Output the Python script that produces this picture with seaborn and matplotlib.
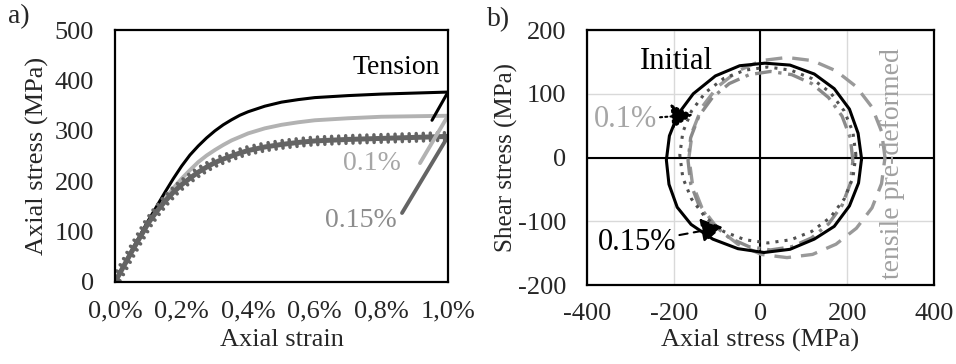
import numpy as np
import pandas as pd
import matplotlib
matplotlib.use("Agg")
import matplotlib.pyplot as plt
import matplotlib.patheffects as pe
import seaborn as sns

# ---- panel a) : axial stress-strain curves (strain in %, stress in MPa)
strain = [0.0, 0.05, 0.1, 0.125, 0.15, 0.175, 0.2, 0.225, 0.25, 0.275, 0.3, 0.325,
          0.35, 0.375, 0.4, 0.45, 0.5, 0.55, 0.6, 0.7, 0.8, 0.9, 1.0]
stress_tension = [0, 62, 122, 150, 178, 205, 230, 252, 270, 286, 300, 312,
                  322, 331, 338, 349, 357, 362, 366, 370, 373, 375, 377]
stress_01 = [0, 62, 120, 143, 165, 186, 205, 222, 238, 251, 262, 272,
             281, 288, 295, 305, 312, 317, 321, 325, 328, 329, 330]
stress_015 = [0, 60, 117, 140, 160, 178, 193, 206, 218, 228, 237, 244,
              250, 256, 261, 268, 273, 277, 280, 283, 285, 287, 289]

# unloading segments (strain %, stress MPa)
unload_tension = ([1.0, 0.952], [377, 321])
unload_01 = ([1.0, 0.916], [330, 236])
unload_015 = ([1.0, 0.862], [289, 137])

# ---- panel b) : yield surfaces (axial stress, shear stress) in MPa
initial_x = [233, 225, 205, 170, 124, 68, 10, -48, -104, -155, -190, -210, -217,
             -211, -192, -160, -110, -52, 8, 68, 124, 170, 205, 226, 233]
initial_y = [-2, 38, 76, 108, 131, 145, 148, 144, 128, 100, 68, 34, -4,
             -42, -78, -105, -128, -143, -149, -144, -128, -108, -76, -40, -2]

pre01_x = [220, 213, 193, 161, 118, 70, 17, -36, -85, -127, -159, -179, -186,
           -179, -159, -127, -85, -36, 17, 70, 118, 161, 193, 213, 220]
pre01_y = [4, 40, 73, 102, 124, 137, 142, 137, 124, 102, 73, 40, 4,
           -32, -65, -94, -116, -129, -134, -129, -116, -94, -65, -32, 4]

pre015_x = [213, 207, 188, 157, 118, 72, 23, -26, -72, -111, -142, -161, -167,
            -161, -142, -111, -72, -26, 23, 72, 118, 157, 188, 207, 213]
pre015_y = [-5, 31, 65, 94, 116, 130, 135, 130, 116, 94, 65, 31, -5,
            -41, -75, -104, -126, -140, -145, -140, -126, -104, -75, -41, -5]

tensile_x = [287, 279, 257, 221, 174, 120, 61, 2, -52, -99, -135, -157, -165,
             -157, -135, -99, -52, 2, 61, 120, 174, 221, 257, 279, 287]
tensile_y = [0, 41, 79, 111, 136, 152, 157, 152, 136, 111, 79, 41, 0,
             -41, -79, -111, -136, -152, -157, -152, -136, -111, -79, -41, 0]

sns.set_style("white")
plt.rcParams["font.family"] = ["Liberation Serif", "DejaVu Serif"]
plt.rcParams["axes.linewidth"] = 1.6
plt.rcParams["axes.unicode_minus"] = False

fig = plt.figure(figsize=(9.56, 3.64), dpi=100)
ax1 = fig.add_axes([0.1203, 0.2253, 0.3483, 0.692])
ax2 = fig.add_axes([0.614, 0.217, 0.363, 0.7005])

FS = 19

# ---------------- panel a)
df_a = pd.DataFrame({"strain": strain, "tension": stress_tension,
                     "p01": stress_01, "p015": stress_015})

sns.lineplot(data=df_a, x="strain", y="p01", color="#b2b2b2", lw=2.8, ax=ax1)
sns.lineplot(data=df_a, x="strain", y="tension", color="black", lw=2.2, ax=ax1)
sns.lineplot(data=df_a, x="strain", y="p015", color="#646464", lw=3.6, ax=ax1,
             path_effects=[pe.Normal(),
                           pe.TickedStroke(spacing=5, angle=90, length=0.55, linewidth=2.5),
                           pe.TickedStroke(spacing=5, angle=-90, length=0.55, linewidth=2.5)])

ax1.plot(*unload_01, color="#b2b2b2", lw=2.8)
ax1.plot(*unload_015, color="#646464", lw=2.8)
ax1.plot(*unload_tension, color="black", lw=2.2)

ax1.set_xlim(0, 1.0)
ax1.set_ylim(0, 500)
ax1.set_xticks([0, 0.2, 0.4, 0.6, 0.8, 1.0])
ax1.set_xticklabels(["0,0%", "0,2%", "0,4%", "0,6%", "0,8%", "1,0%"])
ax1.set_yticks([0, 100, 200, 300, 400, 500])
ax1.tick_params(axis="x", direction="in", length=5, width=1.6, labelsize=FS, pad=13)
ax1.tick_params(axis="y", direction="out", length=7, width=1.6, labelsize=FS, pad=8)
ax1.set_xlabel("Axial strain", fontsize=FS, labelpad=5)
ax1.set_ylabel("Axial stress (MPa)", fontsize=FS, labelpad=4)
for s in ax1.spines.values():
    s.set_color("black")

ax1.text(0.976, 425, "Tension", fontsize=20, ha="right", va="center", color="black")
ax1.text(0.772, 236, "0.1%", fontsize=20, ha="center", va="center", color="#a6a6a6")
ax1.text(0.739, 123, "0.15%", fontsize=20, ha="center", va="center", color="#8c8c8c")

# ---------------- panel b)
ax2.grid(True, color="#d9d9d9", lw=1.0)
ax2.set_axisbelow(True)
ax2.axhline(0, color="black", lw=1.5, zorder=1)
ax2.axvline(0, color="black", lw=1.5, zorder=1)

sns.lineplot(x=tensile_x, y=tensile_y, sort=False, estimator=None, ax=ax2,
             color="#999999", lw=2.4, linestyle=(0, (5, 3)))
sns.lineplot(x=pre015_x, y=pre015_y, sort=False, estimator=None, ax=ax2,
             color="#8a8a8a", lw=2.4, linestyle=(0, (5, 2, 1, 2)))
sns.lineplot(x=pre01_x, y=pre01_y, sort=False, estimator=None, ax=ax2,
             color="#505050", lw=2.2, linestyle=(0, (1, 2)))
sns.lineplot(x=initial_x, y=initial_y, sort=False, estimator=None, ax=ax2,
             color="black", lw=2.2)

ax2.set_xlim(-400, 400)
ax2.set_ylim(-200, 200)
ax2.set_xticks([-400, -200, 0, 200, 400])
ax2.set_yticks([-200, -100, 0, 100, 200])
ax2.tick_params(axis="both", length=0, labelsize=FS)
ax2.tick_params(axis="x", pad=13)
ax2.tick_params(axis="y", pad=15)
ax2.set_xlabel("Axial stress (MPa)", fontsize=FS, labelpad=3)
ax2.set_ylabel("Shear stress (MPa)", fontsize=18, labelpad=0)
for s in ax2.spines.values():
    s.set_color("black")
    s.set_linewidth(1.6)

ax2.text(-193, 150, "Initial", fontsize=22, ha="center", va="center", color="black")
ax2.annotate("0.1%", xy=(-156, 67), xytext=(-312, 59), fontsize=22, color="#a6a6a6",
             ha="center", va="center",
             arrowprops=dict(arrowstyle="-|>,head_length=0.6,head_width=0.35", color="black",
                             lw=1.5, linestyle=(0, (1, 1.5)),
                             mutation_scale=22, shrinkA=28, shrinkB=0))
ax2.annotate("0.15%", xy=(-87, -109), xytext=(-285, -134), fontsize=22, color="black",
             ha="center", va="center",
             arrowprops=dict(arrowstyle="-|>,head_length=0.6,head_width=0.35", color="black",
                             lw=1.5, linestyle=(0, (4, 3)),
                             mutation_scale=22, shrinkA=38, shrinkB=0))
ax2.text(305, -9, "tensile pre-deformed", fontsize=20, rotation=90, ha="center", va="center",
         color="#a0a0a0")

fig.text(0.008, 0.955, "a)", fontsize=20, ha="left", va="center")
fig.text(0.509, 0.945, "b)", fontsize=20, ha="left", va="center")

fig.savefig("out.png", dpi=100)
